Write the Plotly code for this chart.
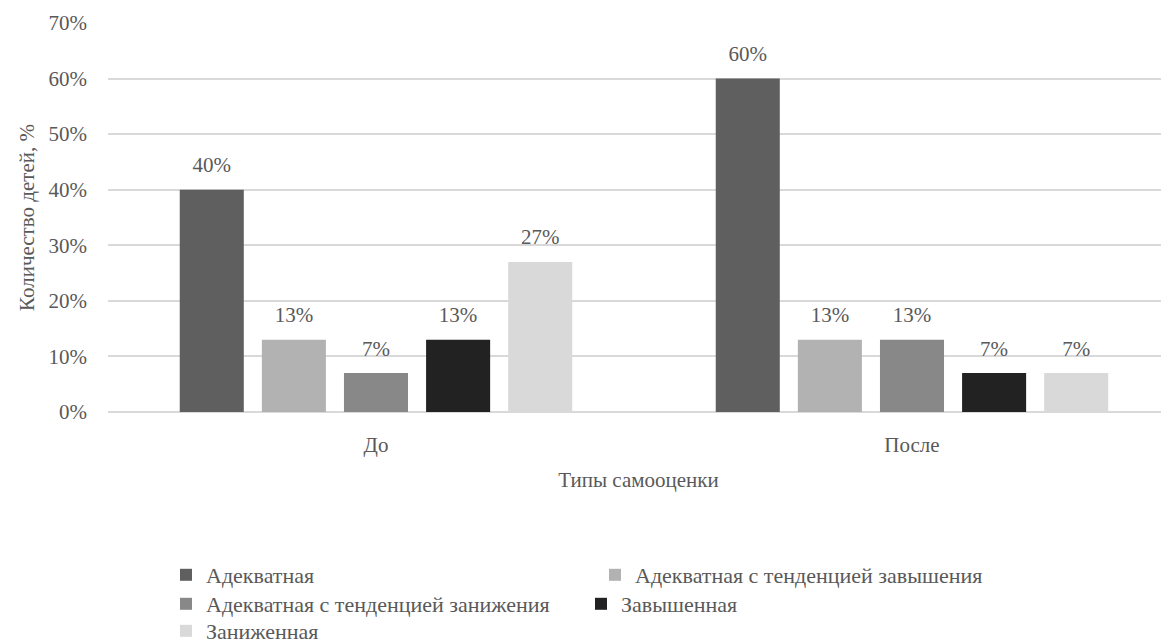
import plotly.graph_objects as go

categories = ["До", "После"]
series_names = [
    "Адекватная",
    "Адекватная с тенденцией завышения",
    "Адекватная с тенденцией занижения",
    "Завышенная",
    "Заниженная",
]
values = {
    "Адекватная": [40, 60],
    "Адекватная с тенденцией завышения": [13, 13],
    "Адекватная с тенденцией занижения": [7, 13],
    "Завышенная": [13, 7],
    "Заниженная": [27, 7],
}
colors = ["#5f5f5f", "#b2b2b2", "#888888", "#222222", "#d9d9d9"]
legend_rows = ["legend", "legend", "legend2", "legend2", "legend3"]
y_ticks = [0, 10, 20, 30, 40, 50, 60, 70]

FONT = "Liberation Serif, Times New Roman, serif"
TXT = "#595959"

fig = go.Figure()
for name, col, lg in zip(series_names, colors, legend_rows):
    v = values[name]
    fig.add_trace(go.Bar(
        x=categories, y=v, name=name, legend=lg,
        marker=dict(color=col, line=dict(width=0)),
    ))
# value labels (grouped like the bars), placed a little above each bar
for name in series_names:
    v = values[name]
    fig.add_trace(go.Scatter(
        x=categories, y=v, mode="markers+text", showlegend=False, hoverinfo="skip",
        marker=dict(size=18, opacity=0),
        text=[f"{a}%" for a in v], textposition="top center",
        textfont=dict(family=FONT, size=21, color=TXT),
        cliponaxis=False,
    ))

W, H = 1161, 635
plot_top, plot_bottom = 15, 404
ph = plot_bottom - plot_top

def ly(win_y):
    return (plot_bottom - (win_y - 8)) / ph

def leg(y, ew):
    return dict(orientation="h", xanchor="left", yanchor="middle",
                x=(166 - 108) / (1169 - 108), y=ly(y),
                entrywidth=ew, entrywidthmode="pixels",
                font=dict(family=FONT, size=22, color=TXT),
                itemwidth=30, bgcolor="rgba(0,0,0,0)")

fig.update_layout(
    width=W, height=H,
    paper_bgcolor="white", plot_bgcolor="white",
    font=dict(family=FONT, size=21, color=TXT),
    margin=dict(l=100, r=0, t=plot_top, b=H - plot_bottom, autoexpand=False),
    barmode="group", bargap=0.234, bargroupgap=0.22,
    scattermode="group", scattergap=0.234,
    showlegend=True,
    legend=leg(575, 384),
    legend2=leg(604, 370),
    legend3=leg(631, 384),
)
fig.update_xaxes(
    range=[-0.5, 1.4795], showgrid=False, showline=False, zeroline=False,
    ticks="", ticklabelstandoff=18,
    title=dict(text="Типы самооценки", font=dict(family=FONT, size=21, color=TXT), standoff=16),
)
fig.update_yaxes(
    range=[0, 70], tickvals=y_ticks, ticktext=[f"{t}%" for t in y_ticks],
    showgrid=True, gridcolor="#d9d9d9", gridwidth=1.5, zeroline=True, zerolinecolor="#d9d9d9", zerolinewidth=1.5,
    showline=False, ticks="", ticklabelstandoff=20,
    title=dict(text="Количество детей, %", font=dict(family=FONT, size=21, color=TXT), standoff=8),
)

fig.write_html("out.html")
